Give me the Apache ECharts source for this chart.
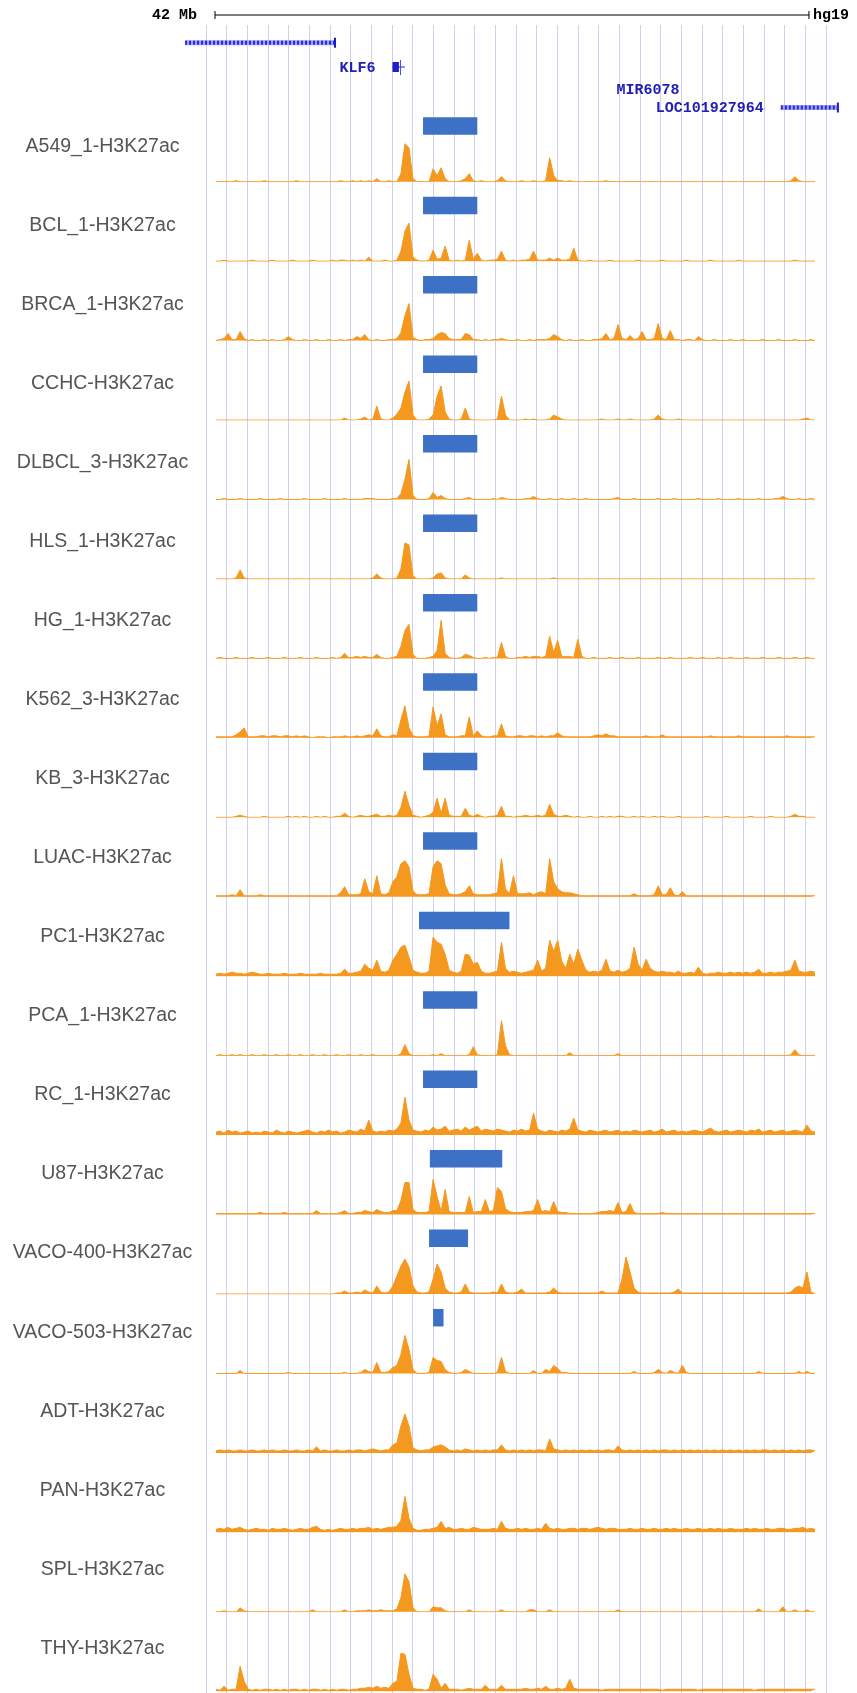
<!DOCTYPE html>
<html><head><meta charset="utf-8">
<script src="https://cdn.jsdelivr.net/npm/echarts@6/dist/echarts.min.js"></script>
<style>html,body{margin:0;padding:0;background:#fff}#c{width:857px;height:1693px}</style>
</head><body><div id="c"></div>
<script>
// ---------- DATA ----------
const trackLabels = ['A549_1-H3K27ac','BCL_1-H3K27ac','BRCA_1-H3K27ac','CCHC-H3K27ac','DLBCL_3-H3K27ac','HLS_1-H3K27ac','HG_1-H3K27ac','K562_3-H3K27ac','KB_3-H3K27ac','LUAC-H3K27ac','PC1-H3K27ac','PCA_1-H3K27ac','RC_1-H3K27ac','U87-H3K27ac','VACO-400-H3K27ac','VACO-503-H3K27ac','ADT-H3K27ac','PAN-H3K27ac','SPL-H3K27ac','THY-H3K27ac'];

// signal per bin (150 bins across the window)
const A549 = [
0,0,0,0,0,1,0,0,0,0, 0,0,1,0,0,0,0,0,0,0, 1,0,0,0,0,0,0,0,0,0,
0,1,0,0,1,0,1,0,1,0, 3,0,0,1,0,0,8,38,34,3, 0,0,0,0,13,6,14,3,0,0,
0,1,3,8,1,0,1,0,0,0, 1,5,1,0,0,0,1,0,0,1, 0,0,1,24,6,1,1,0,1,0,
0,0,0,0,0,0,0,1,0,0, 0,0,0,0,0,0,0,0,0,0, 0,0,0,0,0,0,0,0,0,0,
0,0,0,0,0,0,0,0,0,0, 0,0,0,0,0,0,0,0,0,0, 0,0,0,1,5,1,0,0,0,0];
const BCL = [
0,0,1,0,0,0,0,0,0,1, 0,0,0,0,1,0,0,0,0,1, 0,0,0,0,1,0,0,0,0,1,
0,1,1,0,1,0,1,0,4,0, 0,0,1,0,0,1,10,30,38,4, 1,0,0,1,11,2,3,15,1,0,
1,0,1,21,2,8,1,0,1,1, 2,10,1,0,1,0,1,1,2,10, 1,1,1,3,1,3,1,1,2,13,
1,0,0,1,0,0,0,0,1,0, 0,0,0,0,0,1,0,0,0,0, 0,1,0,0,0,0,0,1,0,0,
0,0,0,1,0,0,0,0,0,0, 1,0,0,0,0,0,0,0,0,0, 0,0,0,0,1,0,0,0,0,0];
const BRCA = [
0,1,2,7,1,1,9,2,0,1, 0,0,1,0,1,0,0,1,4,1, 0,0,1,0,0,1,0,0,1,0,
0,1,0,1,1,4,2,6,1,0, 1,0,0,1,1,2,8,25,37,3, 1,0,1,1,2,6,8,7,2,1,
1,1,7,6,1,1,0,1,0,1, 1,2,1,0,0,1,0,0,1,0, 1,1,1,2,6,4,1,0,1,0,
0,1,0,0,1,1,2,7,1,2, 16,2,1,5,1,2,9,1,1,2, 17,2,1,10,1,1,0,1,1,0,
4,1,0,0,1,0,0,0,1,0, 0,1,0,0,0,0,1,0,0,0, 1,0,0,0,1,0,0,0,1,0];
const CCHC = [
0,0,0,0,0,0,0,0,0,0, 0,0,0,0,0,0,0,0,0,0, 0,0,0,0,0,0,0,0,0,0,
0,0,2,0,0,0,1,3,0,1, 14,1,0,0,2,6,12,28,39,5, 0,0,0,1,5,24,34,8,1,0,
0,1,12,1,0,0,0,0,0,0, 1,24,5,0,0,0,0,1,0,1, 0,0,0,1,5,3,1,0,0,0,
0,0,0,0,0,0,1,0,0,0, 1,0,0,1,0,0,0,0,0,1, 5,1,0,0,0,1,0,0,0,0,
0,0,0,0,0,0,0,0,0,0, 0,0,0,0,0,0,0,0,0,0, 0,0,0,0,0,0,1,2,0,0];
const DLBCL = [
0,0,1,0,0,0,1,0,0,0, 0,1,0,0,0,0,1,0,0,0, 0,0,1,0,0,0,0,1,0,0,
0,0,1,0,0,0,0,1,1,1, 0,0,0,0,1,1,6,20,40,4, 0,0,0,1,7,2,4,1,0,0,
0,0,1,2,0,0,0,0,0,1, 0,2,1,0,0,0,0,1,1,3, 1,0,0,1,0,0,1,0,0,1,
0,0,1,0,0,0,0,0,0,1, 2,0,0,0,1,0,0,0,0,0, 1,0,0,0,1,0,0,0,0,0,
1,0,0,0,0,1,0,0,0,0, 1,0,0,0,0,1,0,0,0,1, 1,3,1,0,0,1,0,0,1,0];
const HLS = [
0,0,0,0,0,1,9,1,0,0, 0,0,0,0,0,0,0,0,0,0, 0,0,0,0,0,0,0,0,0,0,
0,0,0,0,0,0,0,0,0,1, 5,1,0,0,0,1,10,36,34,3, 0,0,0,0,1,5,6,1,0,0,
0,0,4,1,0,0,0,0,0,0, 0,1,0,0,0,0,0,0,0,0, 0,0,0,0,1,0,0,0,0,0,
0,0,0,0,0,0,0,0,0,0, 0,0,0,0,0,0,0,0,0,0, 0,0,0,0,0,0,0,0,0,0,
0,0,0,0,0,0,0,0,0,0, 0,0,0,0,0,0,0,0,0,0, 0,0,0,0,0,0,0,0,0,0];
const HG = [
0,1,0,0,0,1,0,0,0,1, 0,0,0,1,0,0,0,1,0,0, 0,1,0,0,0,1,0,0,0,1,
0,1,5,1,1,2,1,2,1,1, 4,1,0,0,1,2,12,28,34,4, 0,0,0,1,2,8,38,5,1,0,
0,1,4,3,1,0,0,1,0,1, 1,16,2,0,0,1,1,2,1,2, 2,1,2,22,6,18,2,2,2,1,
19,2,0,0,1,0,0,0,1,0, 0,1,0,0,0,1,0,0,0,0, 1,0,0,1,0,0,0,0,1,0,
0,1,0,0,0,1,0,0,1,0, 0,0,1,0,0,0,1,0,0,0, 1,0,0,0,1,0,0,1,0,0];
const K562 = [
1,1,1,1,1,3,6,10,1,1, 1,2,2,1,2,2,1,2,2,1, 2,1,2,1,0,1,1,1,0,1,
1,1,2,1,1,2,1,2,3,2, 9,2,1,1,3,2,18,32,10,2, 1,1,1,2,31,12,24,3,1,1,
1,2,2,21,2,7,2,1,1,2, 2,14,2,1,1,2,2,1,2,2, 1,2,1,2,2,5,2,1,1,1,
1,1,1,1,2,3,2,4,2,2, 1,1,1,1,1,1,1,2,1,1, 1,3,1,1,1,1,1,1,1,1,
1,1,1,2,1,1,1,1,1,1, 2,1,1,1,1,1,1,1,1,1, 1,1,2,1,1,1,1,1,1,1];
const KB = [
0,0,0,0,0,1,2,1,0,0, 0,0,1,0,0,0,0,0,1,0, 1,0,1,0,0,1,0,1,0,0,
1,1,4,1,0,1,2,1,1,2, 3,1,1,2,1,2,10,26,12,2, 1,0,1,2,5,19,4,19,2,1,
1,1,9,2,1,3,1,0,1,1, 2,11,1,1,0,1,1,2,1,1, 2,1,2,13,3,1,1,2,1,0,
1,0,0,1,0,0,1,0,1,0, 1,1,0,0,1,0,1,0,0,1, 0,1,0,0,0,1,0,0,0,0,
0,0,1,0,0,0,0,1,0,0, 0,0,0,1,0,0,0,0,1,0, 0,0,0,1,3,1,1,0,0,0];
const LUAC = [
1,1,1,1,2,1,7,1,1,1, 1,2,1,1,1,1,1,1,1,1, 1,1,1,1,1,1,1,1,1,1,
1,4,10,2,2,2,3,18,5,3, 21,3,2,4,15,20,33,36,30,6, 2,2,2,3,30,36,33,12,3,2,
2,3,5,11,3,2,2,2,2,3, 4,38,8,3,21,3,3,3,4,2, 4,5,3,38,15,8,5,4,4,3,
2,1,1,1,1,1,1,1,1,1, 1,1,1,1,3,1,1,1,1,2, 11,2,2,9,2,1,5,1,1,1,
1,1,1,1,1,1,1,1,1,1, 1,1,1,1,1,1,1,1,1,1, 1,1,1,1,1,1,1,1,1,1];
const PC1 = [
2,3,2,3,4,3,3,2,3,4, 3,2,2,3,2,2,2,3,2,2, 2,3,2,2,2,2,3,2,2,2,
2,3,7,3,3,4,5,12,8,6, 16,5,4,6,16,22,29,31,19,6, 4,3,3,5,39,34,32,22,6,4,
3,5,22,21,12,14,5,3,3,4, 5,34,8,4,5,4,3,4,5,6, 16,5,8,36,25,36,15,8,22,12,
27,16,6,4,5,4,6,17,5,4, 6,4,5,8,29,12,6,17,8,5, 4,5,4,4,3,5,3,3,4,3,
9,3,2,3,3,4,3,3,4,3, 4,3,4,3,4,7,3,3,4,3, 4,4,5,6,16,5,4,4,5,4];
const PCA = [
0,1,0,0,1,0,1,0,0,1, 0,0,1,0,0,1,0,0,1,0, 0,1,0,0,1,0,0,1,0,0,
1,0,0,1,0,0,1,0,0,1, 0,0,0,0,0,0,2,11,2,0, 0,0,0,0,1,0,2,0,0,0,
0,0,0,1,9,1,0,0,0,0, 1,35,10,1,0,0,0,0,0,0, 0,0,0,0,0,0,0,0,3,0,
0,0,0,0,0,0,0,0,0,0, 2,0,0,0,0,0,0,0,0,0, 0,0,0,0,0,0,0,0,0,0,
0,0,0,0,0,0,0,0,0,0, 0,0,0,0,0,0,0,0,0,0, 0,0,0,1,6,1,0,0,0,0];
const RC = [
3,4,2,5,3,4,2,3,4,2, 3,2,4,3,2,5,3,2,4,3, 2,3,4,5,3,2,4,3,5,3,
4,2,3,5,4,3,6,4,15,4, 3,4,3,5,4,6,12,38,15,5, 4,3,5,4,8,5,6,9,4,5,
6,4,8,5,7,9,4,6,5,4, 6,5,4,3,5,4,6,4,5,22, 6,4,3,5,4,3,5,4,6,17,
5,4,3,5,4,3,4,5,3,4, 5,3,4,3,5,4,3,4,5,3, 4,6,3,4,5,3,4,3,4,5,
4,3,5,7,4,3,4,5,3,4, 5,4,3,5,4,6,3,4,5,3, 4,5,3,4,5,4,3,10,4,3];
const U87 = [
1,1,1,1,1,1,1,1,1,1, 1,2,1,1,1,1,1,2,1,1, 1,1,1,1,1,4,1,1,1,1,
1,2,4,1,1,2,2,4,3,2, 5,3,2,2,4,4,14,32,32,5, 2,2,2,3,35,18,3,25,3,2,
2,2,2,18,2,3,3,15,3,4, 27,23,6,3,2,2,2,3,3,4, 15,3,4,3,13,3,2,2,1,1,
1,1,1,1,1,2,3,3,4,3, 12,2,3,11,2,1,1,1,1,1, 1,2,1,1,1,1,1,1,1,1,
1,1,1,1,1,1,1,1,1,1, 1,1,1,1,1,1,1,1,1,1, 1,1,1,1,1,1,1,1,1,1];
const VACO400 = [
0,0,0,0,0,0,0,0,0,0, 0,0,0,0,0,0,0,0,0,0, 0,0,0,0,0,0,0,0,0,0,
1,1,3,1,1,2,1,4,2,1, 8,2,1,2,8,18,28,35,27,8, 2,1,1,2,15,30,22,6,2,1,
1,2,10,2,1,1,1,1,1,2, 1,10,2,1,1,2,5,1,1,1, 1,1,1,2,6,2,1,1,1,1,
1,1,1,1,1,1,3,1,1,1, 1,15,37,22,6,2,1,1,1,1, 1,1,1,1,2,5,1,1,1,1,
1,1,1,1,1,1,1,1,1,1, 1,1,1,1,1,1,1,1,1,1, 1,1,1,2,6,8,6,22,2,0];
const VACO503 = [
0,0,0,0,0,0,3,0,0,0, 0,0,0,0,0,0,0,0,1,0, 0,0,0,0,0,0,0,0,0,0,
0,0,1,0,0,0,1,4,2,1, 11,1,1,2,6,8,19,38,24,4, 0,0,0,1,16,13,12,4,1,0,
0,1,4,2,0,0,0,0,0,0, 1,16,2,0,0,0,0,0,0,3, 0,0,4,2,8,5,1,1,0,0,
0,0,0,0,0,0,0,0,0,0, 0,0,0,0,2,0,0,0,0,1, 4,1,0,3,1,0,8,1,0,0,
0,0,0,0,0,0,0,0,0,0, 0,0,0,0,0,2,0,0,0,0, 0,0,0,0,0,2,0,2,0,0];
const ADT = [
2,3,2,3,2,2,3,2,2,3, 2,2,3,2,3,2,2,3,2,2, 3,2,2,3,2,6,2,3,2,2,
3,2,2,3,2,3,3,2,3,4, 3,2,3,3,8,10,27,39,27,5, 3,2,3,3,6,7,8,6,3,2,
3,2,4,3,2,3,2,3,2,3, 3,8,3,2,3,2,3,2,3,2, 3,3,2,14,4,3,2,3,2,3,
2,3,2,3,2,3,2,3,3,2, 7,3,2,3,2,3,2,3,2,3, 2,3,3,2,3,2,3,2,3,2,
3,2,3,2,3,2,3,2,3,2, 3,2,3,2,3,2,3,3,2,3, 2,3,2,3,2,3,2,3,3,2];
const PAN = [
3,4,3,5,3,4,5,3,2,3, 4,3,3,2,4,3,3,4,3,2, 3,4,3,3,5,6,3,2,3,2,
3,4,3,3,4,3,4,4,5,3, 4,3,4,5,5,6,12,36,14,4, 2,2,3,3,4,5,11,4,5,3,
3,4,3,3,5,4,3,3,3,4, 3,11,4,3,3,4,3,4,3,3, 4,3,9,4,3,4,3,3,4,4,
3,4,4,3,4,5,4,3,4,4, 3,3,3,4,3,3,4,3,3,4, 3,3,4,3,4,3,3,4,3,3,
4,3,3,4,3,4,3,3,4,3, 3,3,4,3,4,3,3,4,3,3, 4,4,3,3,4,4,5,3,4,3];
const SPL = [
0,0,1,0,0,0,4,1,0,0, 0,0,0,0,0,0,0,0,0,0, 0,0,0,0,2,0,0,0,0,0,
0,0,2,0,0,1,1,1,2,1, 1,2,1,1,1,3,14,38,30,4, 0,0,0,0,5,4,4,1,0,0,
0,0,0,2,0,0,0,0,0,0, 0,2,0,0,0,0,0,0,2,2, 0,0,0,2,0,0,0,0,0,0,
0,0,0,0,0,0,0,0,0,0, 2,0,0,0,0,0,0,0,0,0, 0,0,0,0,0,0,0,0,0,0,
0,0,0,0,0,0,0,0,0,0, 0,0,0,0,0,3,0,0,0,0, 0,5,0,0,2,0,0,2,0,0];
const THY = [
2,1,5,1,2,2,25,10,2,1, 2,1,2,2,1,2,1,2,1,2, 2,1,2,1,2,2,1,2,1,2,
1,2,2,1,2,2,3,3,4,3, 5,3,4,3,8,10,38,37,17,3, 2,2,1,2,17,12,3,8,2,2,
2,1,2,3,2,2,2,6,2,2, 2,6,2,2,2,2,2,3,2,2, 3,2,5,2,2,3,2,3,12,3,
2,2,2,2,2,2,1,2,2,2, 2,2,2,2,2,2,2,2,2,2, 2,1,2,2,2,2,2,2,2,2,
1,2,2,2,2,2,2,2,2,2, 2,2,2,2,1,2,2,2,2,2, 2,2,2,2,2,2,2,2,2,2];

const signals = [A549,BCL,BRCA,CCHC,DLBCL,HLS,HG,K562,KB,LUAC,PC1,PCA,RC,U87,VACO400,VACO503,ADT,PAN,SPL,THY];

// highlighted regions per track (bin units), null = none
const regionStart = [52,52,52,52,52,52,52,52,52,52,51,52,52,53.7,53.5,54.5,null,null,null,null];
const regionEnd   = [65.5,65.5,65.5,65.5,65.5,65.5,65.5,65.5,65.5,65.5,73.5,65.5,65.5,71.7,63.2,57.1,null,null,null,null];

// gene annotations (bin units)
const geneNames = ['', 'KLF6', 'MIR6078', 'LOC101927964'];
const geneStart = [-7.2, 44.4, 120, 141];
const geneEnd   = [30.1, 47.5, 120.2, 155.2];
const geneThickEnd = [null, 46.0, null, null];
const geneTss = [null, 46.4, null, null];
const geneKind = ['arrow', 'exon', 'none', 'arrow'];

// scale bar
const scaleLabel = '42 Mb';
const assemblyLabel = 'hg19';
const scaleStart = 0.25, scaleEnd = 148;

// ---------- LAYOUT ----------
const NB = 150;
const TRACK_LEFT = 214, TRACK_W = 603;
const BASE0 = 181.7, STEP = 79.45, GH = 66;
const ORANGE = '#f5981f';
const BLUE = '#3d71c6';
const geneRowY = [42.7, 67, 89.3, 107.5];

const chart = echarts.init(document.getElementById('c'), null, {renderer: 'canvas'});

const grids = [], xAxes = [], yAxes = [], series = [], graphics = [];

// background vertical grid lines
grids.push({left: 206, top: 25, width: 620, height: 1693 - 25});
xAxes.push({gridIndex: 0, type: 'value', min: 0, max: 30, interval: 1,
  axisLine: {show: false}, axisTick: {show: false}, axisLabel: {show: false},
  splitLine: {show: true, lineStyle: {color: '#d0d0ee', width: 1}}});
yAxes.push({gridIndex: 0, type: 'value', min: 0, max: 1, show: false, splitLine: {show: false}});

// header grid
grids.push({left: TRACK_LEFT, top: 0, width: TRACK_W, height: 130});
xAxes.push({gridIndex: 1, type: 'value', min: 0, max: NB, show: false, splitLine: {show: false}});
yAxes.push({gridIndex: 1, type: 'value', min: 0, max: 130, inverse: true, show: false, splitLine: {show: false}});

const monoFont = 'bold 15px "Liberation Mono", "DejaVu Sans Mono", monospace';
const geneColor = '#2020b4';

series.push({
  type: 'custom', xAxisIndex: 1, yAxisIndex: 1, silent: true, clip: false,
  data: [[scaleStart, scaleEnd]],
  renderItem: function (params, api) {
    const y = api.coord([0, 15])[1];
    const s = api.coord([api.value(0), 0])[0];
    const e = api.coord([api.value(1), 0])[0];
    const st = {stroke: '#000', lineWidth: 1};
    return {type: 'group', children: [
      {type: 'line', shape: {x1: s, y1: y, x2: e, y2: y}, style: st},
      {type: 'line', shape: {x1: s, y1: y - 4, x2: s, y2: y + 4}, style: st},
      {type: 'line', shape: {x1: e, y1: y - 4, x2: e, y2: y + 4}, style: st},
      {type: 'text', style: {text: scaleLabel, x: s - 18, y: y, align: 'right', verticalAlign: 'middle', textAlign: 'right', textVerticalAlign: 'middle', font: monoFont, fill: '#000'}},
      {type: 'text', style: {text: assemblyLabel, x: e + 4, y: y, align: 'left', verticalAlign: 'middle', textAlign: 'left', textVerticalAlign: 'middle', font: monoFont, fill: '#000'}}
    ]};
  }
});

series.push({
  type: 'custom', xAxisIndex: 1, yAxisIndex: 1, silent: true, clip: false,
  data: geneNames.map((n, i) => [geneStart[i], geneEnd[i]]),
  renderItem: function (params, api) {
    const i = params.dataIndex;
    const s = api.coord([api.value(0), 0])[0];
    const e = api.coord([api.value(1), 0])[0];
    const y = api.coord([0, geneRowY[i]])[1];
    const ch = [];
    if (geneKind[i] === 'arrow') {
      ch.push({type: 'rect', shape: {x: s, y: y - 2.5, width: e - s, height: 5}, style: {fill: '#a4a4f6'}});
      ch.push({type: 'line', shape: {x1: s, y1: y, x2: e, y2: y}, style: {stroke: '#2a2ad6', lineWidth: 4, lineDash: [2, 2]}});
      ch.push({type: 'line', shape: {x1: e, y1: y - 5, x2: e, y2: y + 5}, style: {stroke: '#1c1cc4', lineWidth: 2}});
    } else if (geneKind[i] === 'exon') {
      const te = api.coord([geneThickEnd[i], 0])[0];
      const ts = api.coord([geneTss[i], 0])[0];
      ch.push({type: 'line', shape: {x1: s, y1: y, x2: e, y2: y}, style: {stroke: '#1c1cc4', lineWidth: 1}});
      ch.push({type: 'rect', shape: {x: s, y: y - 5, width: te - s, height: 10}, style: {fill: '#1c1cd0'}});
      ch.push({type: 'line', shape: {x1: ts, y1: y - 7, x2: ts, y2: y + 8}, style: {stroke: '#4a4ad8', lineWidth: 1}});
    }
    if (geneNames[i]) {
      ch.push({type: 'text', style: {text: geneNames[i], x: s - 17, y: y + 1, align: 'right', verticalAlign: 'middle', textAlign: 'right', textVerticalAlign: 'middle', font: monoFont, fill: geneColor}});
    }
    return {type: 'group', children: ch};
  }
});

// tracks
signals.forEach((sig, t) => {
  const gi = grids.length;
  const base = BASE0 + STEP * t;
  grids.push({left: TRACK_LEFT, top: base - GH, width: TRACK_W, height: GH});
  xAxes.push({gridIndex: gi, type: 'value', min: 0, max: NB, show: false, splitLine: {show: false}});
  yAxes.push({gridIndex: gi, type: 'value', min: 0, max: GH, show: false, splitLine: {show: false}});
  series.push({
    type: 'line', xAxisIndex: gi, yAxisIndex: gi, silent: true,
    data: sig.map((v, j) => [j + 0.5, v]),
    showSymbol: false, symbol: 'none',
    lineStyle: {color: ORANGE, width: 1},
    areaStyle: {color: ORANGE, opacity: 1, origin: 'start'},
    z: 3
  });
  if (regionStart[t] !== null) {
    series.push({
      type: 'custom', xAxisIndex: gi, yAxisIndex: gi, silent: true, clip: false,
      data: [[regionStart[t], regionEnd[t]]],
      renderItem: function (params, api) {
        const p1 = api.coord([api.value(0), 64.5]);
        const p2 = api.coord([api.value(1), 47]);
        return {type: 'rect', shape: {x: p1[0], y: p1[1], width: p2[0] - p1[0], height: p2[1] - p1[1]}, style: {fill: BLUE}};
      },
      z: 4
    });
  }
  graphics.push({
    type: 'text', x: 102.5, y: 146.7 + 79.03 * t, silent: true,
    style: {text: trackLabels[t], x: 0, y: 0, align: 'center', verticalAlign: 'middle', textAlign: 'center', textVerticalAlign: 'middle',
      font: '19.5px "Liberation Sans", Arial, sans-serif', fill: '#555555'}
  });
});

chart.setOption({
  animation: false,
  backgroundColor: '#ffffff',
  grid: grids, xAxis: xAxes, yAxis: yAxes, series: series,
  graphic: {elements: graphics}
});
</script>
</body></html>
